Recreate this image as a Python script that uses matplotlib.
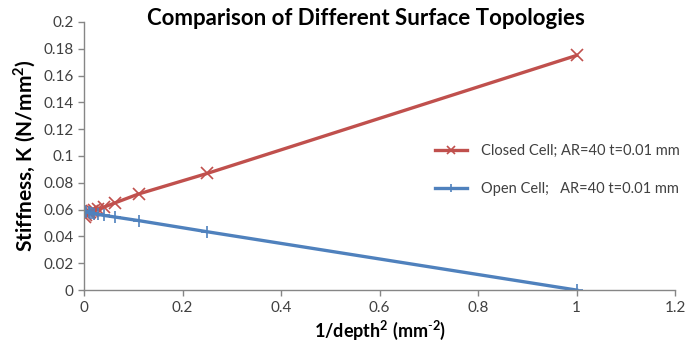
import matplotlib.pyplot as plt

plt.rcParams['font.family'] = ['Lato', 'DejaVu Sans']
plt.rcParams['mathtext.fontset'] = 'custom'
plt.rcParams['mathtext.rm'] = 'Lato'
plt.rcParams['mathtext.bf'] = 'Lato:bold'

# 1/depth^2 values and measured stiffness
closed_x = [1.0, 0.25, 0.111, 0.0625, 0.04, 0.0278, 0.0204, 0.0156, 0.0123, 0.01, 0.0044, 0.0025]
closed_k = [0.175, 0.087, 0.0717, 0.065, 0.0618, 0.0603, 0.0595, 0.0588, 0.0582, 0.0578, 0.0560, 0.0548]
open_x = [1.0, 0.25, 0.111, 0.0625, 0.04, 0.0278, 0.0204, 0.0156, 0.0123, 0.01, 0.0044, 0.0025]
open_k = [0.0, 0.0435, 0.0518, 0.0545, 0.0557, 0.0565, 0.0570, 0.0575, 0.0578, 0.0580, 0.0585, 0.0588]

RED = '#C0504D'
BLUE = '#4F81BD'
AXIS = '#868686'

fig = plt.figure(figsize=(6.89, 3.47), dpi=100)
ax = fig.add_axes([0.122, 0.164, 0.858, 0.773])

ax.plot(closed_x, closed_k, color=RED, lw=2.4, marker='x', ms=9, mew=1.2,
        label='Closed Cell; AR=40 t=0.01 mm')
ax.plot(open_x, open_k, color=BLUE, lw=2.4, marker='+', ms=9, mew=1.2,
        label='Open Cell;   AR=40 t=0.01 mm')

ax.set_xlim(0, 1.2)
ax.set_ylim(0, 0.2)
ax.set_xticks([0, 0.2, 0.4, 0.6, 0.8, 1.0, 1.2])
ax.set_xticklabels(['0', '0.2', '0.4', '0.6', '0.8', '1', '1.2'])
ax.set_yticks([0, 0.02, 0.04, 0.06, 0.08, 0.1, 0.12, 0.14, 0.16, 0.18, 0.2])
ax.set_yticklabels(['0', '0.02', '0.04', '0.06', '0.08', '0.1', '0.12',
                    '0.14', '0.16', '0.18', '0.2'])

for s in ['top', 'right']:
    ax.spines[s].set_visible(False)
for s in ['left', 'bottom']:
    ax.spines[s].set_color(AXIS)
    ax.spines[s].set_linewidth(1)
ax.tick_params(colors=AXIS, labelcolor='#404040', labelsize=11, length=4, width=1)

ax.set_xlabel(r'1/depth$^{\mathbf{2}}$ (mm$^{\mathbf{\text{-}2}}$)', fontsize=13,
              fontweight='bold', labelpad=3)
ax.set_ylabel(r'Stiffness, K (N/mm$^{\mathbf{2}}$)', fontsize=15,
              fontweight='bold', labelpad=4)

fig.text(0.531, 0.948, 'Comparison of Different Surface Topologies',
         ha='center', va='center', fontsize=16, fontweight='bold')

ax.legend(loc='center left', bbox_to_anchor=(0.612, 0.41, 0.2, 0.2),
          bbox_transform=fig.transFigure, frameon=False, fontsize=10.5,
          handlelength=2.2, handletextpad=1.0, labelspacing=1.6,
          markerscale=0.6, labelcolor='#404040')

fig.savefig('out.png', dpi=100)
